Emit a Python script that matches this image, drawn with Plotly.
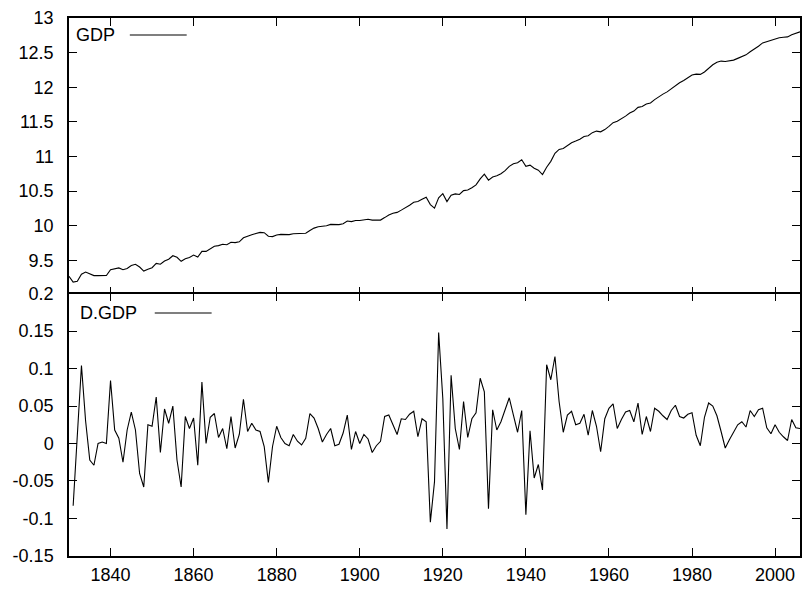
import plotly.graph_objects as go
from plotly.subplots import make_subplots

# Years
years_gdp = list(range(1830, 2007))
years_d = list(range(1831, 2007))

# GDP (log level)
gdp = [9.270, 9.187, 9.197, 9.301, 9.331, 9.309, 9.280, 9.280, 9.282, 9.282,
       9.366, 9.384, 9.391, 9.366, 9.384, 9.426, 9.444, 9.404, 9.346, 9.371,
       9.394, 9.456, 9.444, 9.490, 9.517, 9.567, 9.545, 9.487, 9.523, 9.543,
       9.577, 9.548, 9.630, 9.630, 9.665, 9.705, 9.713, 9.733, 9.726, 9.762,
       9.756, 9.768, 9.827, 9.843, 9.870, 9.888, 9.904, 9.900, 9.848, 9.844,
       9.867, 9.875, 9.875, 9.872, 9.884, 9.887, 9.885, 9.892, 9.932, 9.966,
       9.986, 9.988, 10.000, 10.020, 10.017, 10.016, 10.030, 10.068, 10.060, 10.076,
       10.076, 10.088, 10.094, 10.082, 10.079, 10.082, 10.118, 10.156, 10.181, 10.193,
       10.226, 10.258, 10.297, 10.340, 10.349, 10.382, 10.411, 10.306, 10.255, 10.403,
       10.463, 10.349, 10.440, 10.460, 10.452, 10.508, 10.516, 10.549, 10.590, 10.677,
       10.746, 10.659, 10.704, 10.722, 10.751, 10.796, 10.857, 10.895, 10.910, 10.954,
       10.859, 10.876, 10.830, 10.802, 10.740, 10.845, 10.930, 11.046, 11.102, 11.117,
       11.155, 11.198, 11.223, 11.250, 11.289, 11.300, 11.344, 11.367, 11.356, 11.389,
       11.436, 11.489, 11.509, 11.541, 11.583, 11.627, 11.656, 11.710, 11.722, 11.758,
       11.774, 11.821, 11.864, 11.901, 11.933, 11.977, 12.028, 12.064, 12.098, 12.137,
       12.178, 12.189, 12.186, 12.221, 12.275, 12.325, 12.362, 12.378, 12.372, 12.377,
       12.392, 12.417, 12.446, 12.468, 12.512, 12.548, 12.593, 12.640, 12.661, 12.674,
       12.699, 12.714, 12.723, 12.727, 12.759, 12.780, 12.800]

# first difference
d_gdp = [-0.083, 0.010, 0.104, 0.030, -0.022, -0.029, 0.000, 0.002, 0.000,
         0.084, 0.018, 0.007, -0.025, 0.018, 0.042, 0.018, -0.040, -0.058, 0.025,
         0.023, 0.062, -0.012, 0.046, 0.027, 0.050, -0.022, -0.058, 0.036, 0.020,
         0.034, -0.029, 0.082, 0.000, 0.035, 0.040, 0.008, 0.020, -0.007, 0.036,
         -0.006, 0.012, 0.059, 0.016, 0.027, 0.018, 0.016, -0.004, -0.052, -0.004,
         0.023, 0.008, 0.000, -0.003, 0.012, 0.003, -0.002, 0.007, 0.040, 0.034,
         0.020, 0.002, 0.012, 0.020, -0.003, -0.001, 0.014, 0.038, -0.008, 0.016,
         0.000, 0.012, 0.006, -0.012, -0.003, 0.003, 0.036, 0.038, 0.025, 0.012,
         0.033, 0.032, 0.039, 0.043, 0.009, 0.033, 0.029, -0.105, -0.051, 0.148,
         0.060, -0.114, 0.091, 0.020, -0.008, 0.056, 0.008, 0.033, 0.041, 0.087,
         0.069, -0.087, 0.045, 0.018, 0.029, 0.045, 0.061, 0.038, 0.015, 0.044,
         -0.095, 0.017, -0.046, -0.028, -0.062, 0.105, 0.085, 0.116, 0.056, 0.015,
         0.038, 0.043, 0.025, 0.027, 0.039, 0.011, 0.044, 0.023, -0.011, 0.033,
         0.047, 0.053, 0.020, 0.032, 0.042, 0.044, 0.029, 0.054, 0.012, 0.036,
         0.016, 0.047, 0.043, 0.037, 0.032, 0.044, 0.051, 0.036, 0.034, 0.039,
         0.041, 0.011, -0.003, 0.035, 0.054, 0.050, 0.037, 0.016, -0.006, 0.005,
         0.015, 0.025, 0.029, 0.022, 0.044, 0.036, 0.045, 0.047, 0.021, 0.013,
         0.025, 0.015, 0.009, 0.004, 0.032, 0.021, 0.020]

# ticks
x_ticks = [1840, 1860, 1880, 1900, 1920, 1940, 1960, 1980, 2000]
top_ticks = [9.5, 10, 10.5, 11, 11.5, 12, 12.5, 13]
top_labels = ["9.5", "10", "10.5", "11", "11.5", "12", "12.5", "13"]
bot_ticks = [-0.15, -0.1, -0.05, 0, 0.05, 0.1, 0.15, 0.2]
bot_labels = ["-0.15", "-0.1", "-0.05", "0", "0.05", "0.1", "0.15", "0.2"]

FONT = "Liberation Sans, Arial, sans-serif"
FS = 18

fig = make_subplots(rows=2, cols=1, shared_xaxes=True, vertical_spacing=0)

fig.add_trace(go.Scatter(x=years_gdp, y=gdp, mode="lines", name="GDP",
                         line=dict(color="black", width=1.1)), row=1, col=1)
fig.add_trace(go.Scatter(x=years_d, y=d_gdp, mode="lines", name="D.GDP",
                         line=dict(color="black", width=1.1)), row=2, col=1)

axis_style = dict(showline=True, linecolor="black", linewidth=1.5, mirror="ticks",
                  ticks="inside", ticklen=8, tickwidth=1, tickcolor="black",
                  showgrid=False, zeroline=False,
                  tickfont=dict(family=FONT, size=FS, color="black"))

fig.update_xaxes(range=[1830, 2006], tickvals=x_ticks, **axis_style)
fig.update_xaxes(showticklabels=False, row=1, col=1)
fig.update_xaxes(ticklabelstandoff=2, row=2, col=1)
# panels overlap by a line width so the shared border is one line
fig.update_yaxes(range=[9, 13], tickvals=top_ticks, ticktext=top_labels,
                 domain=[0.4851, 1], ticklabelstandoff=10, row=1, col=1, **axis_style)
fig.update_yaxes(range=[-0.15, 0.2], tickvals=bot_ticks, ticktext=bot_labels,
                 domain=[0, 0.4879], ticklabelstandoff=10, row=2, col=1, **axis_style)

# gnuplot style keys: text then a line sample
keys = [("GDP", 0.0068, 0.9684, 0.0832, 0.161),
        ("D.GDP", 0.0123, 0.4517, 0.1173, 0.1951)]
for text, tx, ty, x0, x1 in keys:
    fig.add_annotation(text=text, x=tx, y=ty, xref="paper", yref="paper",
                       xanchor="left", yanchor="middle", showarrow=False,
                       font=dict(family=FONT, size=FS, color="black"))
    fig.add_shape(type="line", xref="paper", yref="paper", x0=x0, x1=x1,
                  y0=ty, y1=ty, line=dict(color="black", width=1.1))

fig.update_layout(width=804, height=591, showlegend=False,
                  margin=dict(l=69, r=2, t=18, b=35),
                  paper_bgcolor="white", plot_bgcolor="white",
                  font=dict(family=FONT, size=FS, color="black"))

fig.write_html("out.html", config={"displayModeBar": False},
               post_script="document.body.style.margin='0';")
